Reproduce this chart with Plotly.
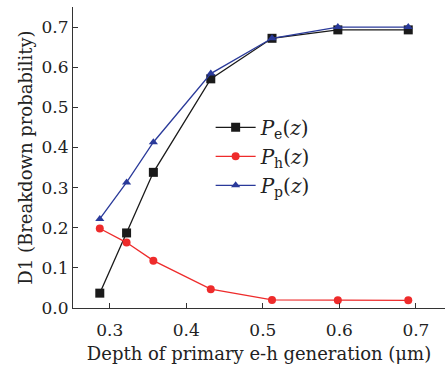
import plotly.graph_objects as go

depth = [0.287, 0.322, 0.357, 0.432, 0.512, 0.598, 0.690]
pe = [0.037, 0.187, 0.338, 0.571, 0.672, 0.693, 0.693]
ph = [0.198, 0.163, 0.118, 0.047, 0.020, 0.019, 0.019]
pp = [0.222, 0.313, 0.413, 0.584, 0.672, 0.700, 0.700]
x_ticks = [0.3, 0.4, 0.5, 0.6, 0.7]
y_ticks = [0.0, 0.1, 0.2, 0.3, 0.4, 0.5, 0.6, 0.7]

FONT = "DejaVu Serif"

fig = go.Figure()
fig.add_trace(go.Scatter(x=depth, y=pe, mode="lines+markers",
                         name="<i>P</i><sub>e</sub>(<i>z</i>)",
                         line=dict(color="#1a1a1a", width=1.3),
                         marker=dict(symbol="square", size=9, color="#1a1a1a")))
fig.add_trace(go.Scatter(x=depth, y=ph, mode="lines+markers",
                         name="<i>P</i><sub>h</sub>(<i>z</i>)",
                         line=dict(color="#ee2b2b", width=1.3),
                         marker=dict(symbol="circle", size=8, color="#ee2b2b")))
fig.add_trace(go.Scatter(x=depth, y=pp, mode="lines+markers",
                         name="<i>P</i><sub>p</sub>(<i>z</i>)",
                         line=dict(color="#2a3a9a", width=1.3),
                         marker=dict(symbol="triangle-up", size=8, color="#2a3a9a")))

fig.update_layout(
    width=446, height=370,
    margin=dict(l=73, r=1, t=7, b=62),
    plot_bgcolor="white", paper_bgcolor="white",
    font=dict(family=FONT, size=16, color="#222"),
    legend=dict(x=0.37, y=0.665, xanchor="left", yanchor="top",
                bgcolor="rgba(0,0,0,0)", font=dict(size=20, family=FONT),
                tracegroupgap=0, itemwidth=40),
    xaxis=dict(range=[0.252, 0.738], tickvals=x_ticks, ticktext=[f"{v:.1f}" for v in x_ticks],
               ticks="inside", ticklen=5, tickcolor="#333", showline=True, linecolor="#333",
               linewidth=1.2, showgrid=False, zeroline=False, ticklabelstandoff=6,
               tickfont=dict(size=17),
               title=dict(text="Depth of primary e-h generation (μm)", standoff=8,
                          font=dict(size=18))),
    yaxis=dict(range=[0, 0.75], tickvals=y_ticks, ticktext=[f"{v:.1f}" for v in y_ticks],
               ticks="inside", ticklen=5, tickcolor="#333", showline=True, linecolor="#333",
               linewidth=1.2, showgrid=False, zeroline=False,
               tickfont=dict(size=17),
               title=dict(text="D1 (Breakdown probability)", standoff=4,
                          font=dict(size=18))),
)

fig.write_html("out.html")
